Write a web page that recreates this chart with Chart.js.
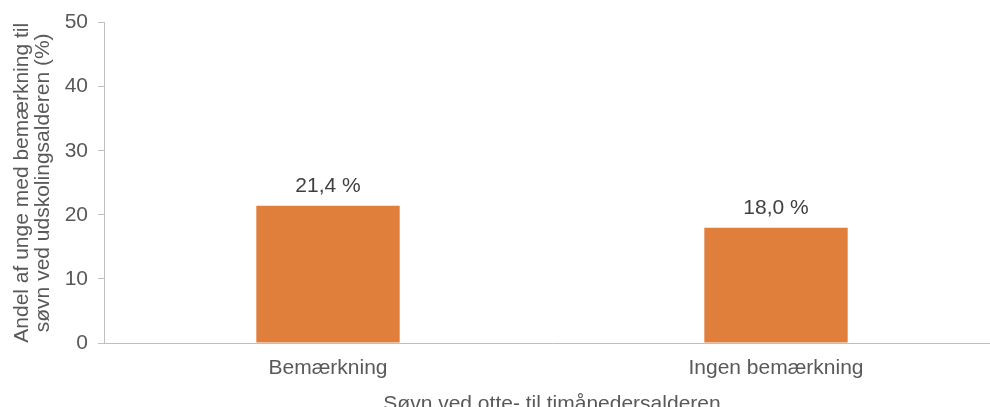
<!DOCTYPE html>
<html>
<head>
<meta charset="utf-8">
<script src="https://cdn.jsdelivr.net/npm/chart.js@4"></script>
<style>
  html, body { margin: 0; padding: 0; background: #fff; overflow: hidden; }
  #wrap { width: 1010px; height: 440px; }
</style>
</head>
<body>
<div id="wrap"><canvas id="myChart" width="1010" height="440"></canvas></div>
<script>
const categories = ["Bemærkning", "Ingen bemærkning"];
const values = [21.4, 18.0];
const yTicks = [0, 10, 20, 30, 40, 50];

const FONT = "'Liberation Sans', Arial, sans-serif";
const ctx = document.getElementById("myChart").getContext("2d");

// tal over søjlerne, dansk komma
const valueLabels = {
  id: "valueLabels",
  afterDatasetsDraw: (chart) => {
    const { ctx } = chart;
    const meta = chart.getDatasetMeta(0);
    ctx.save();
    ctx.font = "21px " + FONT;
    ctx.fillStyle = "#404040";
    ctx.textAlign = "center";
    ctx.textBaseline = "alphabetic";
    meta.data.forEach((bar, i) => {
      const txt = values[i].toFixed(1).replace(".", ",") + " %";
      ctx.fillText(txt, bar.x, bar.y - 14);
    });
    ctx.restore();
  },
};

new Chart(ctx, {
  type: "bar",
  data: {
    labels: categories,
    datasets: [
      {
        data: values,
        backgroundColor: "#E07E3C",
        borderWidth: 0,
        barPercentage: 0.32,
        categoryPercentage: 1,
      },
    ],
  },
  options: {
    responsive: false,
    animation: false,
    layout: { padding: { top: 21, left: 0, right: 10, bottom: 23 } },
    plugins: {
      legend: { display: false },
      tooltip: { enabled: false },
    },
    scales: {
      x: {
        afterFit: (scale) => { scale.height = 74; },
        grid: { display: false },
        border: { color: "#BFBFBF", width: 1 },
        ticks: {
          color: "#595959",
          padding: 5,
          font: { family: FONT, size: 21 },
        },
        title: {
          display: true,
          text: "Søvn ved otte- til timånedersalderen",
          color: "#595959",
          padding: { top: 6, bottom: 0 },
          font: { family: FONT, size: 21 },
        },
      },
      y: {
        min: 0,
        max: 50,
        afterFit: (scale) => { scale.width = 104; },
        afterBuildTicks: (scale) => { scale.ticks = yTicks.map((v) => ({ value: v })); },
        grid: { drawOnChartArea: false, drawTicks: true, tickLength: 6, color: "#BFBFBF" },
        border: { color: "#BFBFBF", width: 1 },
        ticks: {
          color: "#595959",
          padding: 10,
          font: { family: FONT, size: 21 },
        },
        title: {
          display: true,
          text: ["Andel af unge med bemærkning til", "søvn ved udskolingsalderen (%)"],
          color: "#595959",
          padding: { top: 12, bottom: 0 },
          font: { family: FONT, size: 21, lineHeight: 1.0 },
        },
      },
    },
  },
  plugins: [valueLabels],
});
</script>
</body>
</html>
